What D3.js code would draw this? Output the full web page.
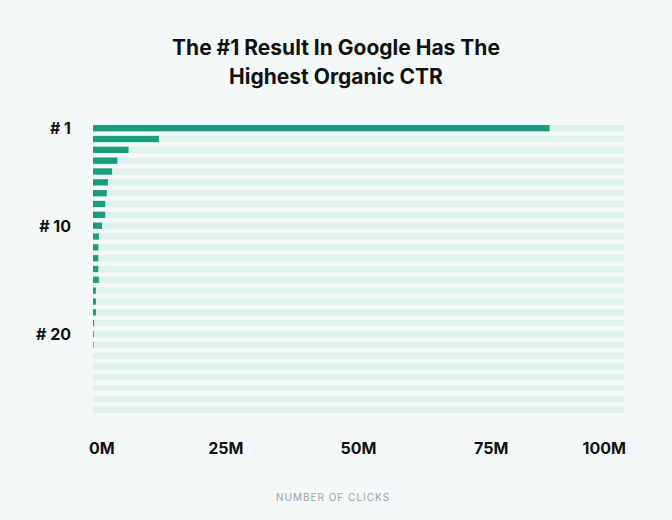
<!DOCTYPE html>
<html><head><meta charset="utf-8">
<script src="https://cdn.jsdelivr.net/npm/d3@7"></script>
<style>
body{margin:0;background:#f3f9f8;font-family:Inter,"Noto Sans",sans-serif;}
</style></head>
<body><svg id="chart"></svg>
<script>
const ranks = d3.range(1, 28);
const clicks = [86.0, 12.4, 6.7, 4.6, 3.6, 2.8, 2.6, 2.3, 2.3, 1.7,
  1.1, 1.0, 1.0, 1.0, 1.1, 0.55, 0.55, 0.55, 0.2, 0.15, 0.1, 0, 0, 0, 0, 0, 0];
const rankLabels = [1, 10, 20];
const xTicks = [0, 25, 50, 75, 100];

const width = 672, height = 520;
const svg = d3.select("#chart").attr("width", width).attr("height", height);
svg.append("rect").attr("width", width).attr("height", height).attr("fill", "#f3f9f8");

// title
svg.append("text").attr("x", 336).attr("y", 55).attr("text-anchor", "middle")
  .attr("font-size", 21).attr("font-weight", 700).attr("fill", "#111")
  .text("The #1 Result In Google Has The");
svg.append("text").attr("x", 336).attr("y", 84).attr("text-anchor", "middle")
  .attr("font-size", 21).attr("font-weight", 700).attr("fill", "#111")
  .text("Highest Organic CTR");

const x = d3.scaleLinear().domain([0, 100]).range([93, 624]);
const y = d3.scaleBand().domain(ranks).range([120.5, 417.5]).padding(0.42);

// background tracks
svg.selectAll(".track").data(ranks).enter().append("rect")
  .attr("x", x(0)).attr("width", x(100) - x(0))
  .attr("y", d => y(d)).attr("height", y.bandwidth())
  .attr("fill", "#e0f2ec");

svg.selectAll(".bar").data(clicks).enter().append("rect")
  .attr("x", x(0)).attr("width", d => x(d) - x(0))
  .attr("y", (d, i) => y(ranks[i])).attr("height", y.bandwidth())
  .attr("fill", "#1a9e7a");

svg.selectAll(".rank").data(rankLabels).enter().append("text")
  .attr("x", 71).attr("y", d => y(d) + y.bandwidth() / 2 + 6)
  .attr("text-anchor", "end").attr("font-size", 16).attr("font-weight", 700).attr("fill", "#111")
  .text(d => "# " + d);

svg.selectAll(".xt").data(xTicks).enter().append("text")
  .attr("x", (d, i) => i === 0 ? x(d) - 4 : i === xTicks.length - 1 ? x(d) + 2 : x(d))
  .attr("y", 454)
  .attr("text-anchor", (d, i) => i === 0 ? "start" : i === xTicks.length - 1 ? "end" : "middle")
  .attr("font-size", 16).attr("font-weight", 700).attr("fill", "#111")
  .text(d => d + "M");

svg.append("text").attr("x", 333).attr("y", 501).attr("text-anchor", "middle")
  .attr("font-size", 10).attr("letter-spacing", 1).attr("fill", "#9aa3a3")
  .text("NUMBER OF CLICKS");
</script></body></html>
